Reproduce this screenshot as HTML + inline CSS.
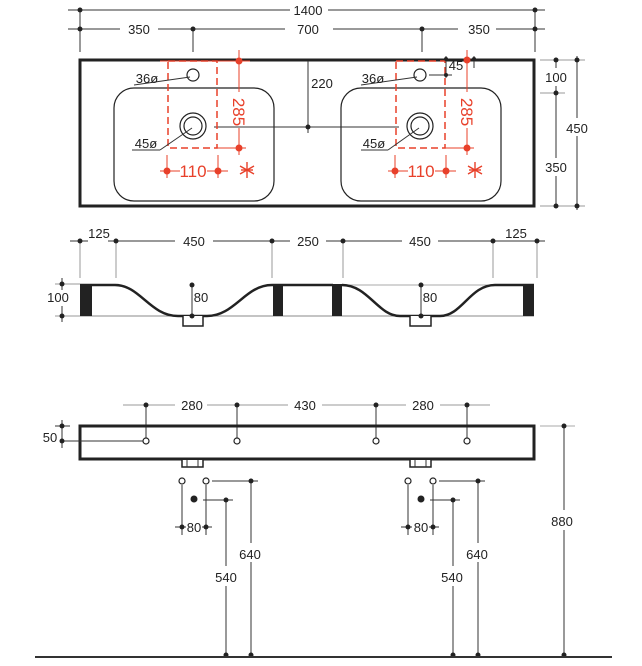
<!DOCTYPE html>
<html><head><meta charset="utf-8"><style>
html,body{margin:0;padding:0;background:#fff;}
svg{display:block;font-family:"Liberation Sans",sans-serif;}
.d{stroke:#333;stroke-width:1;fill:none}
.g{stroke:#999;stroke-width:1;fill:none}
.t{font-size:13px;fill:#222;text-anchor:middle}
.r{stroke:#e8402a;fill:none}
.rt{fill:#e8402a;font-size:17px;text-anchor:middle}
</style></head><body>
<svg width="642" height="666" viewBox="0 0 642 666" xmlns="http://www.w3.org/2000/svg">
<defs><g id="ast" stroke="#e8402a" stroke-width="1.4"><line x1="0" y1="-8" x2="0" y2="8"/><line x1="-7" y1="-4" x2="7" y2="4"/><line x1="-7" y1="4" x2="7" y2="-4"/><line x1="-6" y1="0" x2="6" y2="0"/></g></defs>
<line class="d" x1="68" y1="10" x2="290" y2="10"/><line class="d" x1="328" y1="10" x2="545" y2="10"/>
<text class="t" x="308" y="15">1400</text>
<line class="d" x1="68" y1="29" x2="120" y2="29"/><line class="d" x1="158" y1="29" x2="285" y2="29"/>
<line class="d" x1="333" y1="29" x2="458" y2="29"/><line class="d" x1="496" y1="29" x2="545" y2="29"/>
<text class="t" x="139" y="34">350</text><text class="t" x="308" y="34">700</text><text class="t" x="479" y="34">350</text>
<line class="d" x1="80" y1="10" x2="80" y2="52"/><line class="d" x1="535" y1="10" x2="535" y2="52"/>
<line class="d" x1="193" y1="29" x2="193" y2="52"/><line class="d" x1="422" y1="29" x2="422" y2="52"/>
<g fill="#222"><circle cx="80" cy="10" r="2.5"/><circle cx="535" cy="10" r="2.5"/><circle cx="80" cy="29" r="2.5"/><circle cx="193" cy="29" r="2.5"/><circle cx="422" cy="29" r="2.5"/><circle cx="535" cy="29" r="2.5"/></g>
<rect x="80" y="60" width="454" height="146" fill="none" stroke="#222" stroke-width="3"/>
<rect x="114" y="88" width="160" height="113" rx="20" fill="none" stroke="#222" stroke-width="1.2"/>
<rect x="341" y="88" width="160" height="113" rx="20" fill="none" stroke="#222" stroke-width="1.2"/>
<line class="d" x1="308" y1="61" x2="308" y2="133"/><line class="d" x1="214" y1="127" x2="399" y2="127"/>
<circle cx="308" cy="127" r="2.5" fill="#222"/><text class="t" x="322" y="88">220</text>
<rect x="168" y="61" width="49" height="87" class="r" stroke-width="1.5" stroke-dasharray="7,4"/>
<circle cx="193" cy="75" r="6" fill="#fff" stroke="#222" stroke-width="1.2"/>
<circle cx="193" cy="126" r="13" fill="#fff" stroke="#222" stroke-width="1.2"/>
<circle cx="193" cy="126" r="9" fill="none" stroke="#222" stroke-width="1.2"/>
<line class="d" x1="134" y1="85" x2="190" y2="77"/><text class="t" x="147" y="83">36ø</text>
<line class="d" x1="132" y1="150" x2="160" y2="150"/><line class="d" x1="160" y1="150" x2="192" y2="128"/><text class="t" x="146" y="148">45ø</text>
<line class="r" x1="239" y1="50" x2="239" y2="92"/><line class="r" x1="239" y1="128" x2="239" y2="155"/>
<line class="r" x1="217" y1="148" x2="246" y2="148"/><line class="r" x1="160" y1="61" x2="250" y2="61"/>
<text class="rt" transform="translate(233,112) rotate(90)">285</text>
<line class="r" x1="167" y1="155" x2="167" y2="178"/><line class="r" x1="218" y1="155" x2="218" y2="178"/>
<line class="r" x1="160" y1="171" x2="180" y2="171"/><line class="r" x1="207" y1="171" x2="228" y2="171"/>
<text class="rt" x="193" y="177">110</text>
<use href="#ast" x="247" y="170"/>
<g fill="#e8402a"><circle cx="239" cy="61" r="3.5"/><circle cx="239" cy="148" r="3.5"/><circle cx="167" cy="171" r="3.5"/><circle cx="218" cy="171" r="3.5"/></g>
<rect x="396" y="61" width="49" height="87" class="r" stroke-width="1.5" stroke-dasharray="7,4"/>
<circle cx="420" cy="75" r="6" fill="#fff" stroke="#222" stroke-width="1.2"/>
<circle cx="420" cy="126" r="13" fill="#fff" stroke="#222" stroke-width="1.2"/>
<circle cx="420" cy="126" r="9" fill="none" stroke="#222" stroke-width="1.2"/>
<line class="d" x1="361" y1="85" x2="417" y2="77"/><text class="t" x="373" y="83">36ø</text>
<line class="d" x1="361" y1="150" x2="388" y2="150"/><line class="d" x1="388" y1="150" x2="419" y2="128"/><text class="t" x="374" y="148">45ø</text>
<line class="d" x1="429" y1="75" x2="452" y2="75"/><line class="d" x1="446" y1="56" x2="446" y2="78"/>
<line class="d" x1="474" y1="56" x2="474" y2="68"/>
<circle cx="446" cy="59" r="2" fill="#222"/><circle cx="446" cy="75" r="2" fill="#222"/><circle cx="474" cy="59" r="2" fill="#222"/>
<text class="t" x="456" y="70">45</text>
<line class="r" x1="467" y1="50" x2="467" y2="92"/><line class="r" x1="467" y1="128" x2="467" y2="155"/>
<line class="r" x1="445" y1="148" x2="474" y2="148"/>
<text class="rt" transform="translate(461,112) rotate(90)">285</text>
<line class="r" x1="395" y1="155" x2="395" y2="178"/><line class="r" x1="446" y1="155" x2="446" y2="178"/>
<line class="r" x1="388" y1="171" x2="408" y2="171"/><line class="r" x1="435" y1="171" x2="456" y2="171"/>
<text class="rt" x="421" y="177">110</text>
<use href="#ast" x="475" y="170"/>
<g fill="#e8402a"><circle cx="467" cy="60" r="3.5"/><circle cx="467" cy="148" r="3.5"/><circle cx="395" cy="171" r="3.5"/><circle cx="446" cy="171" r="3.5"/></g>
<line class="g" x1="540" y1="60" x2="585" y2="60"/><line class="g" x1="540" y1="93" x2="565" y2="93"/><line class="g" x1="540" y1="206" x2="585" y2="206"/>
<line class="d" x1="556" y1="60" x2="556" y2="68"/><line class="d" x1="556" y1="86" x2="556" y2="158"/><line class="d" x1="556" y1="176" x2="556" y2="206"/>
<line class="d" x1="577" y1="56" x2="577" y2="118"/><line class="d" x1="577" y1="136" x2="577" y2="210"/>
<g fill="#222"><circle cx="556" cy="60" r="2.5"/><circle cx="556" cy="93" r="2.5"/><circle cx="556" cy="206" r="2.5"/><circle cx="577" cy="60" r="2.5"/><circle cx="577" cy="206" r="2.5"/></g>
<text class="t" x="556" y="82">100</text><text class="t" x="556" y="172">350</text><text class="t" x="577" y="133">450</text>
<line class="d" x1="70" y1="241" x2="88" y2="241"/><line class="d" x1="108" y1="241" x2="175" y2="241"/><line class="d" x1="213" y1="241" x2="290" y2="241"/>
<line class="d" x1="326" y1="241" x2="402" y2="241"/><line class="d" x1="438" y1="241" x2="545" y2="241"/>
<text class="t" x="99" y="238">125</text><text class="t" x="194" y="246">450</text><text class="t" x="308" y="246">250</text><text class="t" x="420" y="246">450</text><text class="t" x="516" y="238">125</text>
<g class="g"><line x1="80" y1="241" x2="80" y2="278"/><line x1="116" y1="241" x2="116" y2="278"/><line x1="272" y1="241" x2="272" y2="278"/><line x1="343" y1="241" x2="343" y2="278"/><line x1="493" y1="241" x2="493" y2="278"/><line x1="537" y1="241" x2="537" y2="278"/></g>
<g fill="#222"><circle cx="80" cy="241" r="2.5"/><circle cx="116" cy="241" r="2.5"/><circle cx="272" cy="241" r="2.5"/><circle cx="343" cy="241" r="2.5"/><circle cx="493" cy="241" r="2.5"/><circle cx="537" cy="241" r="2.5"/></g>
<line class="g" x1="55" y1="284" x2="80" y2="284"/><line class="g" x1="55" y1="316" x2="80" y2="316"/>
<line class="d" x1="62" y1="278" x2="62" y2="290"/><line class="d" x1="62" y1="306" x2="62" y2="322"/>
<circle cx="62" cy="284" r="2.5" fill="#222"/><circle cx="62" cy="316" r="2.5" fill="#222"/>
<text class="t" x="58" y="302">100</text>
<line x1="80" y1="316" x2="534" y2="316" stroke="#888" stroke-width="1"/>
<line x1="343" y1="285" x2="500" y2="285" stroke="#aaa" stroke-width="1"/>
<g fill="#222"><rect x="80" y="284" width="12" height="32"/><rect x="273" y="284" width="10" height="32"/><rect x="332" y="284" width="10" height="32"/><rect x="523" y="284" width="11" height="32"/></g>
<path d="M80 285 H115 C140 285 150 316 178 316 H207 C235 316 245 285 272 285 H333" fill="none" stroke="#222" stroke-width="2.5"/>
<path d="M342 285 C368 285 378 316 400 316 H440 C462 316 470 285 495 285 H534" fill="none" stroke="#222" stroke-width="2.5"/>
<path d="M183 316 V326 H203 V316" fill="#fff" stroke="#222" stroke-width="1.5"/>
<path d="M410 316 V326 H431 V316" fill="#fff" stroke="#222" stroke-width="1.5"/>
<line class="d" x1="192" y1="285" x2="192" y2="316"/><circle cx="192" cy="285" r="2.5" fill="#222"/><circle cx="192" cy="316" r="2.5" fill="#222"/>
<text class="t" x="201" y="302">80</text>
<line class="d" x1="421" y1="285" x2="421" y2="316"/><circle cx="421" cy="285" r="2.5" fill="#222"/><circle cx="421" cy="316" r="2.5" fill="#222"/>
<text class="t" x="430" y="302">80</text>
<line class="g" x1="123" y1="405" x2="175" y2="405"/><line class="g" x1="207" y1="405" x2="288" y2="405"/><line class="g" x1="322" y1="405" x2="406" y2="405"/><line class="g" x1="440" y1="405" x2="490" y2="405"/>
<text class="t" x="192" y="410">280</text><text class="t" x="305" y="410">430</text><text class="t" x="423" y="410">280</text>
<g class="d"><line x1="146" y1="405" x2="146" y2="438"/><line x1="237" y1="405" x2="237" y2="438"/><line x1="376" y1="405" x2="376" y2="438"/><line x1="467" y1="405" x2="467" y2="438"/></g>
<g fill="#222"><circle cx="146" cy="405" r="2.5"/><circle cx="237" cy="405" r="2.5"/><circle cx="376" cy="405" r="2.5"/><circle cx="467" cy="405" r="2.5"/></g>
<rect x="80" y="426" width="454" height="33" fill="none" stroke="#222" stroke-width="3"/>
<line class="d" x1="62" y1="441" x2="143" y2="441"/>
<g fill="#fff" stroke="#222" stroke-width="1.2"><circle cx="146" cy="441" r="3"/><circle cx="237" cy="441" r="3"/><circle cx="376" cy="441" r="3"/><circle cx="467" cy="441" r="3"/></g>
<line class="d" x1="62" y1="420" x2="62" y2="448"/><line class="d" x1="55" y1="426" x2="70" y2="426"/>
<circle cx="62" cy="426" r="2.5" fill="#222"/><circle cx="62" cy="441" r="2.5" fill="#222"/>
<text class="t" x="50" y="442">50</text>
<path d="M182 460 V467 H203 V460" fill="#fff" stroke="#222" stroke-width="1.5"/><line class="d" x1="187" y1="460" x2="187" y2="467"/><line class="d" x1="198" y1="460" x2="198" y2="467"/>
<path d="M410 460 V467 H431 V460" fill="#fff" stroke="#222" stroke-width="1.5"/><line class="d" x1="415" y1="460" x2="415" y2="467"/><line class="d" x1="426" y1="460" x2="426" y2="467"/>
<line x1="540" y1="426" x2="575" y2="426" stroke="#aaa"/>
<line class="d" x1="564" y1="426" x2="564" y2="510"/><line class="d" x1="564" y1="530" x2="564" y2="655"/>
<circle cx="564" cy="426" r="2.5" fill="#222"/><circle cx="564" cy="655" r="2.5" fill="#222"/>
<text class="t" x="562" y="526">880</text>
<g fill="#fff" stroke="#222" stroke-width="1.2"><circle cx="182" cy="481" r="3"/><circle cx="206" cy="481" r="3"/><circle cx="408" cy="481" r="3"/><circle cx="433" cy="481" r="3"/></g>
<circle cx="194" cy="499" r="3.5" fill="#222"/><circle cx="421" cy="499" r="3.5" fill="#222"/>
<g class="d">
<line x1="182" y1="485" x2="182" y2="535"/><line x1="206" y1="485" x2="206" y2="535"/>
<line x1="175" y1="527" x2="186" y2="527"/><line x1="202" y1="527" x2="212" y2="527"/>
<line x1="212" y1="481" x2="258" y2="481"/><line x1="203" y1="500" x2="233" y2="500"/>
<line x1="251" y1="481" x2="251" y2="543"/><line x1="251" y1="562" x2="251" y2="655"/>
<line x1="226" y1="500" x2="226" y2="566"/><line x1="226" y1="586" x2="226" y2="655"/>
<line x1="408" y1="485" x2="408" y2="535"/><line x1="433" y1="485" x2="433" y2="535"/>
<line x1="401" y1="527" x2="412" y2="527"/><line x1="429" y1="527" x2="439" y2="527"/>
<line x1="439" y1="481" x2="485" y2="481"/><line x1="430" y1="500" x2="460" y2="500"/>
<line x1="478" y1="481" x2="478" y2="543"/><line x1="478" y1="562" x2="478" y2="655"/>
<line x1="453" y1="500" x2="453" y2="566"/><line x1="453" y1="586" x2="453" y2="655"/>
</g>
<g fill="#222"><circle cx="182" cy="527" r="2.5"/><circle cx="206" cy="527" r="2.5"/><circle cx="251" cy="481" r="2.5"/><circle cx="226" cy="500" r="2.5"/><circle cx="251" cy="655" r="2.5"/><circle cx="226" cy="655" r="2.5"/>
<circle cx="408" cy="527" r="2.5"/><circle cx="433" cy="527" r="2.5"/><circle cx="478" cy="481" r="2.5"/><circle cx="453" cy="500" r="2.5"/><circle cx="478" cy="655" r="2.5"/><circle cx="453" cy="655" r="2.5"/></g>
<text class="t" x="194" y="532">80</text><text class="t" x="421" y="532">80</text>
<text class="t" x="250" y="559">640</text><text class="t" x="226" y="582">540</text>
<text class="t" x="477" y="559">640</text><text class="t" x="452" y="582">540</text>
<line x1="35" y1="657" x2="612" y2="657" stroke="#333" stroke-width="2"/>
</svg>
</body></html>
